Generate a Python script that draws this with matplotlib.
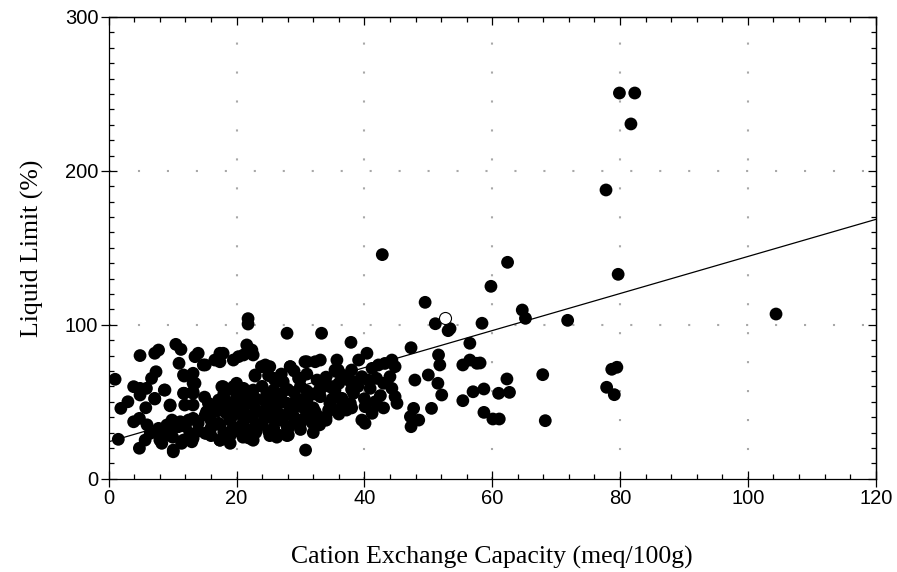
import numpy as np
import matplotlib
matplotlib.use("Agg")
import matplotlib.pyplot as plt
from matplotlib.ticker import MultipleLocator

# Cation exchange capacity (meq/100g) of the filled points
cec = [
    # sparse / high values
    79.9, 82.3, 81.7, 77.8, 79.7, 104.4, 62.4, 59.8, 64.7, 65.2, 71.8, 58.4,
    42.8, 49.5, 51.1, 53.1, 53.4, 56.5, 47.3, 67.9, 62.3, 61.0, 62.7, 58.7,
    58.7, 60.1, 61.1, 68.3, 77.9, 78.7, 79.5, 79.1, 58.1, 55.4, 56.5, 57.6,
    57.0, 55.4,
    # 44 - 53
    51.6, 51.8, 50.0, 47.9, 51.5, 52.1, 50.5, 47.7, 47.2, 48.5, 47.3, 44.8,
    45.1, 44.8, 44.3, 44.0, 44.3,
    # 35 - 45
    37.9, 35.7, 35.4, 36.5, 38.0, 39.1, 40.4, 41.2, 42.2, 43.2, 37.5, 38.5,
    39.6, 40.6, 41.9, 35.4, 36.2, 38.3, 40.9, 37.2, 37.8, 40.1, 41.7, 41.2,
    39.6, 40.1, 35.7, 35.1, 42.5, 43.0, 39.0, 36.5, 35.9, 36.5,
    # 17 - 35
    27.9, 33.3, 21.8, 21.8, 21.6, 22.4, 17.9, 19.5, 17.4, 20.3, 21.1, 22.6,
    24.5, 25.2, 28.4, 22.9, 25.8, 27.1, 30.7, 32.3, 33.1, 30.0, 32.6, 33.6,
    17.9, 19.5, 21.1, 22.6, 24.7, 25.8, 18.2, 20.0, 22.1, 24.2, 26.3, 27.9,
    29.4, 31.0, 33.1, 34.6, 18.4, 20.4, 22.5, 24.5, 26.6, 28.7, 30.8, 32.3,
    34.4, 17.4, 19.5, 21.6, 23.7, 25.8, 27.9, 29.9, 31.8, 17.4, 19.0, 21.6,
    22.6, 25.2, 26.3, 27.9, 30.8, 28.1, 26.5, 22.1, 23.9, 22.9, 28.4, 31.0,
    26.0, 27.3, 29.7, 34.6, 23.0, 25.0, 27.0, 29.0, 31.0, 33.0, 35.0, 26.0,
    30.0, 24.0, 28.0, 32.0, 20.0, 18.0, 19.0, 21.0, 23.0, 25.0, 29.0, 33.0,
    16.0, 18.0, 20.0, 22.0, 24.0, 26.0, 28.0, 30.0, 32.0, 34.0, 19.0, 21.0,
    23.0, 25.0, 27.0, 29.0, 31.0, 33.0, 35.0, 18.0, 20.0, 24.0, 28.0, 30.0,
    32.0, 26.0, 30.0, 34.0, 36.0, 38.0, 40.0, 42.0, 23.0, 21.0, 19.0, 16.0,
    14.0, 12.0, 10.0, 8.0, 6.0, 15.0, 16.0, 25.0, 27.0, 29.0, 31.0, 34.0,
    36.0, 38.0, 43.0, 17.0, 19.0, 27.0, 29.0, 31.0, 33.0,
    # 0 - 17
    1.0, 4.9, 7.2, 7.8, 10.5, 11.3, 13.5, 14.0, 11.0, 7.4, 6.7, 11.8,
    13.2, 15.1, 16.6, 17.4, 3.9, 4.9, 5.9, 4.9, 8.7, 7.2, 1.9, 3.0,
    5.8, 9.6, 11.8, 13.2, 13.2, 11.9, 13.2, 3.9, 4.8, 1.5, 4.8, 6.5,
    5.7, 7.8, 8.3, 8.5, 9.6, 10.9, 10.1, 11.4, 12.7, 13.0, 14.0, 15.1,
    16.1, 17.4, 17.2, 15.1, 15.6, 17.2, 17.7, 9.9, 12.5, 8.8, 7.2, 9.6,
    11.7, 14.8, 13.5, 11.7, 13.2, 19.5, 20.8, 8.0, 10.1, 11.7, 13.2, 15.3,
    9.1, 11.2, 13.2, 15.3, 16.9, 18.5, 20.0, 21.6, 19.5, 21.6, 19.0, 20.5,
]

# Liquid limit (%) of the filled points
liquid_limit = [
    250.6, 250.6, 230.5, 187.6, 132.8, 107.0, 140.6, 125.0, 109.6, 104.2, 102.9, 101.0,
    145.6, 114.6, 100.7, 96.2, 97.5, 88.0, 85.1, 67.6, 64.8, 55.5, 56.1, 58.3,
    43.1, 38.8, 38.8, 37.7, 59.4, 71.1, 72.4, 54.6, 75.2, 73.9, 77.1, 75.0,
    56.5, 50.7,
    80.4, 73.9, 67.4, 64.1, 62.0, 54.4, 45.7, 45.7, 40.3, 38.1, 33.8, 72.8,
    49.0, 53.3, 58.7, 66.3, 77.1,
    88.6, 77.1, 70.6, 67.4, 70.6, 77.1, 81.5, 71.7, 73.9, 74.9, 64.1, 63.0,
    66.3, 64.1, 65.2, 57.6, 52.2, 55.5, 58.7, 44.6, 49.0, 46.8, 50.0, 42.5,
    38.1, 36.0, 69.5, 59.8, 54.0, 46.0, 60.0, 47.0, 70.6, 52.2,
    94.5, 94.5, 104.0, 100.5, 86.9, 83.6, 81.5, 77.1, 76.0, 79.3, 80.4, 80.4,
    73.9, 72.8, 72.8, 66.7, 65.2, 63.0, 76.0, 76.0, 77.1, 65.2, 64.1, 60.9,
    59.8, 57.6, 58.7, 57.6, 54.4, 57.6, 51.1, 51.1, 49.0, 51.1, 51.1, 49.0,
    52.2, 53.3, 53.3, 49.0, 42.5, 42.5, 40.3, 44.6, 42.5, 42.5, 44.6, 43.5,
    44.6, 35.0, 33.0, 32.0, 35.0, 33.0, 34.0, 35.0, 36.5, 25.0, 28.0, 27.0,
    25.0, 28.0, 27.0, 28.0, 18.6, 28.4, 28.4, 26.2, 72.8, 67.4, 72.8, 76.0,
    64.1, 63.0, 65.2, 59.8, 45.0, 40.0, 38.0, 40.0, 42.0, 40.0, 45.0, 46.0,
    47.0, 36.0, 32.0, 30.0, 45.0, 47.0, 38.0, 36.0, 30.0, 31.0, 36.0, 35.0,
    33.0, 30.0, 33.0, 40.0, 43.0, 38.0, 42.0, 38.0, 46.0, 40.0, 45.0, 48.0,
    52.0, 48.0, 55.0, 47.0, 50.0, 57.0, 52.0, 55.0, 62.0, 60.0, 58.0, 60.0,
    55.0, 30.0, 32.0, 38.0, 42.0, 46.0, 52.0, 48.0, 35.0, 27.0, 23.0, 28.0,
    31.0, 34.0, 27.0, 30.0, 35.0, 53.0, 38.0, 67.0, 68.0, 70.0, 68.0, 66.0,
    62.0, 58.0, 62.0, 44.0, 48.0, 50.0, 56.0, 57.0, 58.0,
    64.6, 80.0, 81.5, 83.6, 87.3, 84.0, 79.3, 81.5, 75.0, 69.5, 65.2, 66.7,
    68.5, 73.9, 77.1, 81.5, 59.8, 58.7, 58.7, 54.4, 57.6, 51.8, 45.7, 50.0,
    46.1, 47.4, 55.5, 55.5, 62.0, 47.9, 47.9, 37.0, 39.2, 25.6, 19.8, 29.5,
    25.1, 32.7, 23.0, 27.3, 30.5, 33.8, 17.5, 23.0, 29.5, 24.0, 36.0, 41.4,
    44.6, 25.1, 36.0, 29.5, 49.0, 51.1, 59.8, 38.1, 38.1, 57.6, 52.2, 47.9,
    67.4, 73.9, 62.0, 55.5, 56.5, 59.8, 57.6, 25.1, 18.6, 25.1, 26.2, 29.5,
    34.9, 37.0, 39.2, 43.5, 47.9, 50.0, 52.2, 52.2, 41.4, 41.4, 30.5, 30.5,
]

# the single open point
open_cec = [52.6]
open_ll = [104.6]

# fitted line: LL = intercept + slope * CEC
fit_intercept = 24.0
fit_slope = 1.204
fit_x = [0, 120]

fig = plt.figure(figsize=(8.97, 5.72), dpi=100)
ax = fig.add_axes([0.1212, 0.1631, 0.8551, 0.8072])

ax.set_xlim(0, 120)
ax.set_ylim(0, 300)

# dotted grid at the major ticks
for gx in [20, 40, 60, 80, 100]:
    ax.axvline(gx, color="#a8a8a8", lw=1.5, dashes=(1, 12.9), zorder=0)
for gy in [100, 200]:
    ax.axhline(gy, color="#a8a8a8", lw=1.5, dashes=(1, 12.9), zorder=0)

ax.scatter(cec, liquid_limit, s=85, color="black", edgecolors="none", zorder=3)
ax.scatter(open_cec, open_ll, s=75, facecolors="white", edgecolors="black",
           linewidths=0.8, zorder=4)

fit_y = np.polyval([fit_slope, fit_intercept], fit_x)
ax.plot(fit_x, fit_y, color="black", lw=0.9, zorder=5)

# ticks
ax.xaxis.set_major_locator(MultipleLocator(20))
ax.xaxis.set_minor_locator(MultipleLocator(4))
ax.yaxis.set_major_locator(MultipleLocator(100))
ax.yaxis.set_minor_locator(MultipleLocator(10))
ax.tick_params(which="major", direction="inout", length=11, width=0.9,
               labelsize=14.5, pad=2)
ax.tick_params(which="minor", direction="in", length=3.8, width=0.9)
for lab in ax.get_xticklabels() + ax.get_yticklabels():
    lab.set_fontfamily("Liberation Sans")

top = ax.secondary_xaxis("top")
top.xaxis.set_major_locator(MultipleLocator(20))
top.xaxis.set_minor_locator(MultipleLocator(4))
top.tick_params(which="major", direction="in", length=6, width=0.9, labeltop=False)
top.tick_params(which="minor", direction="in", length=3.8, width=0.9)
right = ax.secondary_yaxis("right")
right.yaxis.set_major_locator(MultipleLocator(100))
right.yaxis.set_minor_locator(MultipleLocator(10))
right.tick_params(which="major", direction="in", length=6, width=0.9, labelright=False)
right.tick_params(which="minor", direction="in", length=3.8, width=0.9)

for sp in list(ax.spines.values()) + list(top.spines.values()) + list(right.spines.values()):
    sp.set_linewidth(0.9)

ax.set_xlabel("Cation Exchange Capacity (meq/100g)", fontfamily="Liberation Serif",
              fontsize=18.5)
ax.set_ylabel("Liquid Limit (%)", fontfamily="Liberation Serif", fontsize=18.5)
ax.xaxis.set_label_coords(0.5, -0.145)
ax.yaxis.set_label_coords(-0.085, 0.5)

fig.savefig("out.png", dpi=100)
